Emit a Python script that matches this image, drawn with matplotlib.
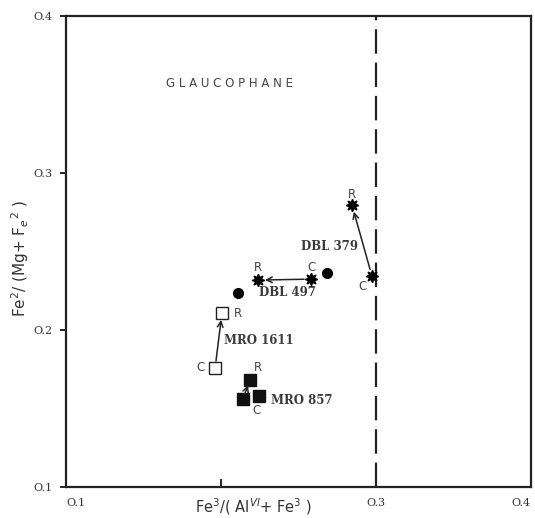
# Fe2/(Mg+Fe2) vs Fe3/(AlVI+Fe3) 图
import matplotlib
matplotlib.use('Agg')
from matplotlib import pyplot as plt

# 数据 (C = core, R = rim)
dbl379_x = [0.2974, 0.2845]
dbl379_y = [0.2343, 0.2796]
dbl497_x = [0.2581, 0.2239]
dbl497_y = [0.2324, 0.2318]
mro1611_x = [0.1962, 0.2006]
mro1611_y = [0.1758, 0.2108]
mro857_x = [0.2142, 0.2187, 0.2245]
mro857_y = [0.1561, 0.1682, 0.1580]
dots_x = [0.2684, 0.2110]
dots_y = [0.2363, 0.2236]

glauc_x = 0.30  # 分界线

xticks = [0.1, 0.2, 0.3, 0.4]
xticklabels = ['O.1', '', 'O.3', 'O.4']
yticks = [0.1, 0.2, 0.3, 0.4]
yticklabels = ['O.1', 'O.2', 'O.3', 'O.4']

fig = plt.figure(figsize=(5.35, 5.18), dpi=100)
ax = fig.add_axes([66 / 535, 31 / 518, 465 / 535, 471 / 518])
ax.set_xlim(0.1, 0.4)
ax.set_ylim(0.1, 0.4)
for s in ax.spines.values():
    s.set_linewidth(1.6)
    s.set_color('#222222')

ax.set_xticks(xticks)
ax.set_xticklabels(xticklabels, family='DejaVu Serif', fontsize=8, color='#333333')
ax.set_yticks(yticks)
ax.set_yticklabels(yticklabels, family='DejaVu Serif', fontsize=8, color='#333333')
ax.tick_params(axis='x', direction='in', length=6, width=1.2, pad=8)
ax.tick_params(axis='y', direction='out', length=4, width=1.2, pad=6)
lbls = ax.get_xticklabels()
lbls[0].set_horizontalalignment('left')
lbls[3].set_horizontalalignment('right')

ax.axvline(glauc_x, color='#222222', lw=1.6, dashes=(11, 4))

star = (8, 1, 0)
ax.plot(dbl379_x, dbl379_y, ls='none', marker=star, ms=9, color='black')
ax.plot(dbl497_x, dbl497_y, ls='none', marker=star, ms=9, color='black')
ax.plot(dots_x, dots_y, ls='none', marker='o', ms=7, color='black')
ax.plot(mro1611_x, mro1611_y, ls='none', marker='s', ms=9, mfc='white', mec='#222222', mew=1)
ax.plot(mro857_x, mro857_y, ls='none', marker='s', ms=9, color='#111111')

arrow = dict(arrowstyle='->', lw=1.1, color='#222222', shrinkA=5, shrinkB=5)
ax.annotate('', xy=(dbl379_x[1], dbl379_y[1]), xytext=(dbl379_x[0], dbl379_y[0]), arrowprops=arrow)
ax.annotate('', xy=(dbl497_x[1], dbl497_y[1]), xytext=(dbl497_x[0], dbl497_y[0]), arrowprops=arrow)
ax.annotate('', xy=(mro1611_x[1], mro1611_y[1]), xytext=(mro1611_x[0], mro1611_y[0]), arrowprops=arrow)
ax.annotate('', xy=(mro857_x[1], mro857_y[1]), xytext=(mro857_x[0], mro857_y[0]), arrowprops=dict(arrow, shrinkA=4, shrinkB=4))

rc = dict(fontsize=8.5, color='#444444', family='DejaVu Sans', ha='center', va='center')
ax.text(0.2845, 0.2866, 'R', **rc)
ax.text(0.2916, 0.2274, 'C', **rc)
ax.text(0.2239, 0.2401, 'R', **rc)
ax.text(0.2581, 0.2401, 'C', **rc)
ax.text(0.2110, 0.2108, 'R', **rc)
ax.text(0.1865, 0.1764, 'C', **rc)
ax.text(0.2239, 0.1758, 'R', **rc)
ax.text(0.2226, 0.1490, 'C', **rc)

nm = dict(fontsize=8.5, color='#3a3a3a', family='DejaVu Serif', weight='bold',
          ha='center', va='center')
ax.text(0.2697, 0.2529, 'DBL 379', **nm)
ax.text(0.2429, 0.2242, 'DBL 497', **nm)
ax.text(0.2242, 0.1930, 'MRO 1611', **nm)
ax.text(0.2519, 0.1554, 'MRO 857', **nm)

ax.text(0.2055, 0.3573, 'G L A U C O P H A N E', fontsize=8.5, color='#444444',
        family='DejaVu Sans', ha='center', va='center')

ax.set_xlabel(r'Fe$^3$/( Al$^{VI}$+ Fe$^3$ )', fontsize=10.5, color='#333333')
ax.xaxis.set_label_coords(0.404, -0.019)
ax.set_ylabel(r'Fe$^2$/ (Mg+ F$_e$$^2$ )', fontsize=11, color='#333333')
ax.yaxis.set_label_coords(-0.099, 0.484)
ax.yaxis.label.set_verticalalignment('center')

fig.savefig('out.png', dpi=100, facecolor='white')
